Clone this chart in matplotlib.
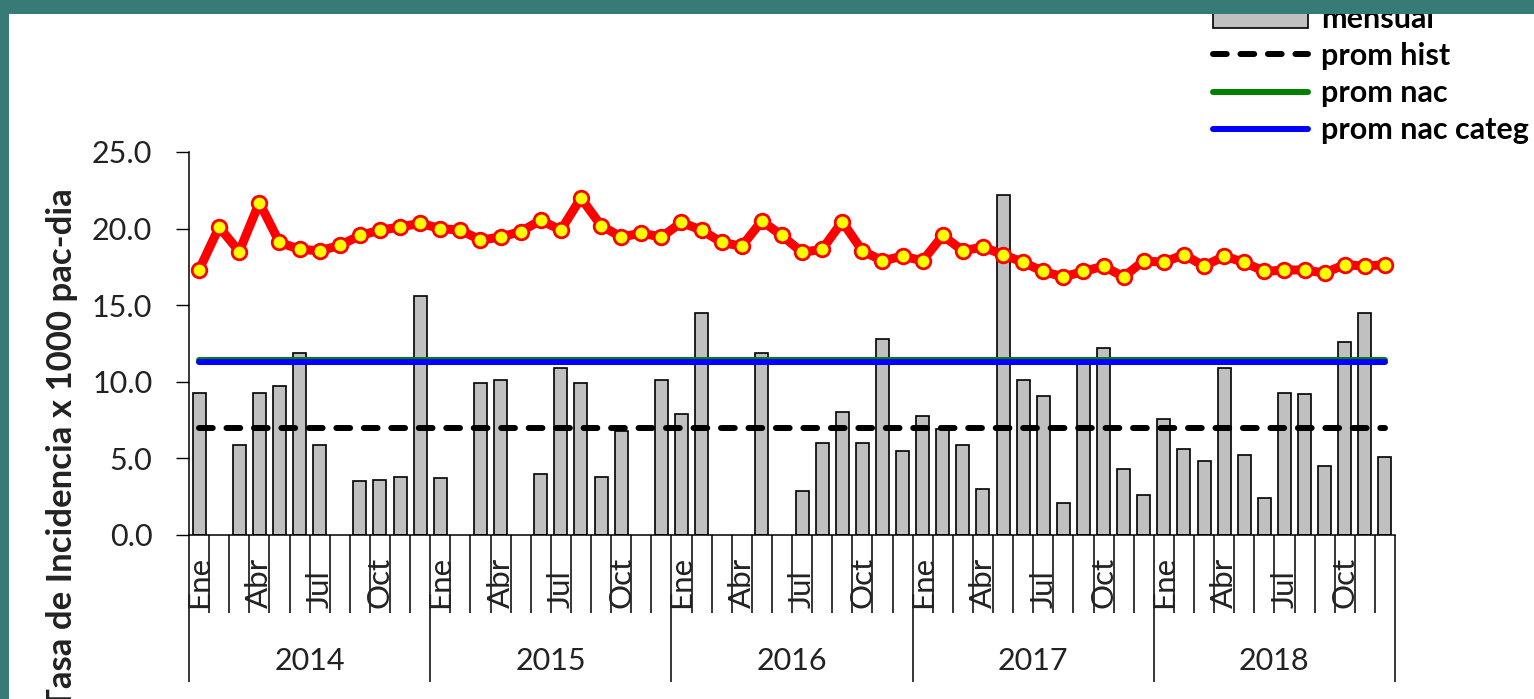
import numpy as np
import matplotlib
matplotlib.use("Agg")
import matplotlib.pyplot as plt
from matplotlib.patches import Rectangle, Patch
from matplotlib.lines import Line2D

plt.rcParams['font.family'] = ['Lato', 'DejaVu Sans']

# ---- data ----
years = ["2014", "2015", "2016", "2017", "2018"]
month_names = ["Ene", "Feb", "Mar", "Abr", "May", "Jun",
               "Jul", "Ago", "Sep", "Oct", "Nov", "Dic"]
shown_months = ["Ene", "Abr", "Jul", "Oct"]

nan = np.nan
mensual_2014 = [9.3, nan, 5.9, 9.3, 9.7, 11.9, 5.9, nan, 3.5, 3.6, 3.8, 15.6]
mensual_2015 = [3.7, nan, 9.9, 10.1, nan, 4.0, 10.9, 9.9, 3.8, 6.8, nan, 10.1]
mensual_2016 = [7.9, 14.5, nan, nan, 11.9, nan, 2.9, 6.0, 8.0, 6.0, 12.8, 5.5]
mensual_2017 = [7.8, 6.9, 5.9, 3.0, 22.2, 10.1, 9.1, 2.1, 11.3, 12.2, 4.3, 2.6]
mensual_2018 = [7.6, 5.6, 4.8, 10.9, 5.2, 2.4, 9.3, 9.2, 4.5, 12.6, 14.5, 5.1]

tasa_2014 = [17.3, 20.1, 18.5, 21.7, 19.1, 18.65, 18.55, 18.9, 19.55, 19.9, 20.1, 20.35]
tasa_2015 = [20.0, 19.9, 19.25, 19.45, 19.8, 20.55, 19.9, 22.0, 20.2, 19.45, 19.7, 19.45]
tasa_2016 = [20.4, 19.9, 19.1, 18.85, 20.5, 19.55, 18.45, 18.65, 20.45, 18.55, 17.9, 18.2]
tasa_2017 = [17.9, 19.55, 18.55, 18.8, 18.3, 17.8, 17.2, 16.85, 17.2, 17.55, 16.85, 17.9]
tasa_2018 = [17.8, 18.3, 17.55, 18.2, 17.8, 17.2, 17.3, 17.3, 17.1, 17.65, 17.55, 17.65]

prom_hist = 7.0
prom_nac = 11.4
prom_nac_categ = 11.3

mensual = np.array(mensual_2014 + mensual_2015 + mensual_2016 + mensual_2017 + mensual_2018)
tasa = np.array(tasa_2014 + tasa_2015 + tasa_2016 + tasa_2017 + tasa_2018)
n = len(mensual)
x = np.arange(n)

# ---- figure ----
W, H = 1534, 699
fig = plt.figure(figsize=(W / 100, H / 100), dpi=100)
teal = "#387a76"
fig.patch.set_facecolor(teal)
fig.add_artist(Rectangle((9 / W, 0), 1 - 9 / W, 1 - 14 / H, transform=fig.transFigure,
                         facecolor="white", edgecolor="none", zorder=-10))

ax = fig.add_axes([189 / W, 1 - 535 / H, (1395 - 189) / W, (535 - 152) / H])
ax.patch.set_alpha(0)

ax.bar(x, mensual, width=0.65, color="#c0c0c0", edgecolor="black", linewidth=1.2, zorder=2)
ax.plot(x, np.full(n, prom_hist), color="black", lw=4.3, dashes=(2.3, 2.3),
        dash_capstyle="round", zorder=3)
ax.plot(x, np.full(n, prom_nac), color="green", lw=4.3, solid_capstyle="round", zorder=3)
ax.plot(x, np.full(n, prom_nac_categ), color="blue", lw=4.3, solid_capstyle="round", zorder=4)
ax.plot(x, tasa, color="red", lw=6.5, marker="o", ms=10.5, mfc="yellow", mec="red",
        mew=2.0, zorder=5)

ax.set_xlim(-0.5, n - 0.5)
ax.set_ylim(0, 25)
ax.set_yticks(np.arange(0, 25.1, 5))
ax.set_yticklabels([f"{v:.1f}" for v in np.arange(0, 25.1, 5)], fontsize=22, color="#222222")
ax.tick_params(axis="y", direction="out", length=9.4, width=1, pad=17)

ax.set_xticks(np.arange(-0.5, n, 12))
ax.set_xticks(np.arange(-0.5, n, 1), minor=True)
ax.tick_params(axis="x", which="major", direction="out", length=106, width=1.1, labelbottom=False)
ax.tick_params(axis="x", which="minor", direction="out", length=56, width=1.1, labelbottom=False)

for side in ["top", "right"]:
    ax.spines[side].set_visible(False)
for side in ["left", "bottom"]:
    ax.spines[side].set_linewidth(1.1)

trans = ax.get_xaxis_transform()
for i in range(n):
    name = month_names[i % 12]
    if name in shown_months:
        ax.text(i, (535 - 608) / (535 - 152), name, transform=trans, rotation=90,
                ha="center", va="bottom", fontsize=22.5, color="#222222")
for k, yr in enumerate(years):
    ax.text(12 * k + 5.5, (535 - 661) / (535 - 152), yr, transform=trans,
            ha="center", va="center", fontsize=22, color="#222222")

fig.text(62 / W, 1 - 188 / H, "Tasa de Incidencia x 1000 pac-dia", rotation=90,
         ha="center", va="top", fontsize=25, fontweight="bold", color="#222222")

handles = [Patch(facecolor="#c0c0c0", edgecolor="black", linewidth=1.2),
           Line2D([], [], color="black", lw=4.3, dashes=(2.3, 2.3), dash_capstyle="round"),
           Line2D([], [], color="green", lw=4.3, solid_capstyle="round"),
           Line2D([], [], color="blue", lw=4.3, solid_capstyle="round")]
labels = ["mensual", "prom hist", "prom nac", "prom nac categ"]
fig.legend(handles, labels, loc="upper left", bbox_to_anchor=(1213 / W, 1 - 5 / H),
           frameon=False, borderpad=0, borderaxespad=0, handlelength=3.1,
           handletextpad=0.43, labelspacing=0.3,
           prop={"weight": "bold", "size": 22})

# teal band that clips the top of the panel
fig.add_artist(Rectangle((0, 1 - 14 / H), 1, 14 / H, transform=fig.transFigure,
                         facecolor=teal, edgecolor="none", zorder=20))
fig.add_artist(Rectangle((0, 0), 9 / W, 1, transform=fig.transFigure,
                         facecolor=teal, edgecolor="none", zorder=20))

fig.savefig("out.png", dpi=100, facecolor=fig.get_facecolor())
